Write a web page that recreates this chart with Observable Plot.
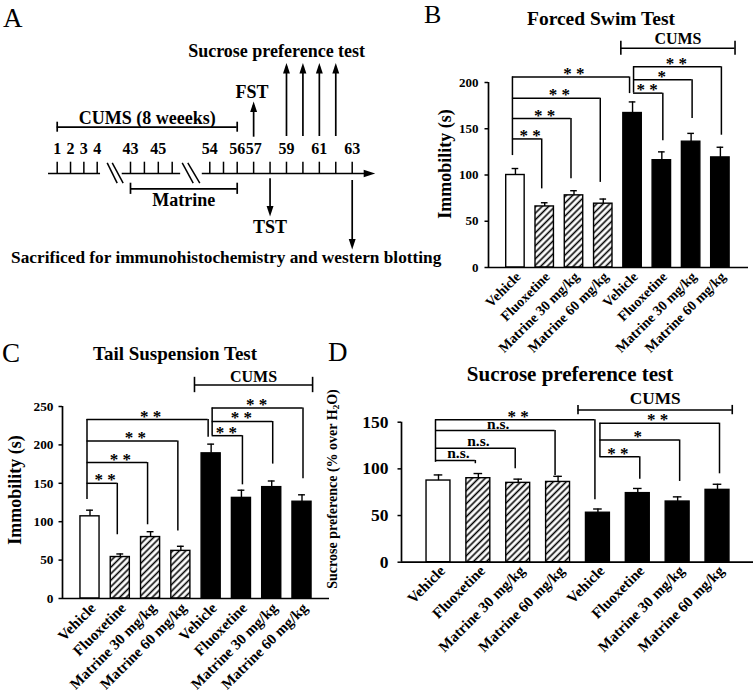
<!DOCTYPE html>
<html><head><meta charset="utf-8">
<script src="https://cdn.jsdelivr.net/npm/d3@7"></script>
<script src="https://cdn.jsdelivr.net/npm/@observablehq/plot@0.6"></script>
<style>
html,body{margin:0;padding:0;background:#fff;}
#fig{position:relative;width:755px;height:693px;overflow:hidden;font-family:'Liberation Serif','Times New Roman',serif;color:#000;}
.abs{position:absolute;}
.lab{position:absolute;line-height:1;white-space:nowrap;}
.ttl{position:absolute;line-height:1;white-space:nowrap;font-weight:bold;transform:translateX(-50%);}
.ylab{position:absolute;line-height:1;white-space:nowrap;font-weight:bold;transform:translate(-50%,-50%) rotate(-90deg);}
.ylab sub{font-size:0.65em;vertical-align:-0.25em;line-height:0;}
</style></head>
<body>
<svg width="0" height="0" style="position:absolute"><defs>
<pattern id="hatch" patternUnits="userSpaceOnUse" width="4.6" height="4.6" patternTransform="rotate(45)">
<rect width="4.6" height="4.6" fill="#fff"/><line x1="2.3" y1="-1" x2="2.3" y2="6" stroke="#000" stroke-width="1.6"/>
</pattern></defs></svg>
<div id="fig"></div>
<script>
// ---------- data ----------
const groups = ["Vehicle","Fluoxetine","Matrine 30 mg/kg","Matrine 60 mg/kg","Vehicle","Fluoxetine","Matrine 30 mg/kg","Matrine 60 mg/kg"];
const stress = ["none","none","none","none","CUMS","CUMS","CUMS","CUMS"];
const treatment = ["vehicle","fluoxetine","matrine","matrine","vehicle","fluoxetine","matrine","matrine"];

const fstMean = [100, 66, 78, 69, 167, 116, 136, 119];
const fstSem  = [7, 4, 5, 5, 12, 9, 9, 11];
const tstMean = [107, 54, 80, 62, 189, 131, 145, 126];
const tstSem  = [8, 4, 7, 6, 12, 10, 8, 9];
const spMean  = [87.5, 90, 85, 86, 53, 74, 65, 77.5];
const spSem   = [6, 5, 4, 6, 4, 5, 5, 6];

const fstTicks = [0, 50, 100, 150, 200];
const tstTicks = [0, 50, 100, 150, 200, 250];
const spTicks  = [0, 50, 100, 150];

// significance comparisons: a vs b, bracket level, right-leg bottom, label
const fstCmp = [
  {a:0,b:1,y:139,drop:85,label:"**"},
  {a:0,b:2,y:161,drop:96,label:"**"},
  {a:0,b:3,y:183,drop:92,label:"**"},
  {a:0,b:4,y:206,drop:188,label:"**"},
  {a:4,b:5,y:188.5,drop:137,label:"**"},
  {a:4,b:6,y:203,drop:161,label:"*"},
  {a:4,b:7,y:217,drop:143,label:"**"}
];
const fstStems = [{at:0,from:121,to:206},{at:4,from:188.5,to:217}];
const tstCmp = [
  {a:0,b:1,y:150,drop:83,label:"**"},
  {a:0,b:2,y:177,drop:96,label:"**"},
  {a:0,b:3,y:205,drop:88,label:"**"},
  {a:0,b:4,y:233,drop:210,label:"**"},
  {a:4,b:5,y:212,drop:148,label:"**"},
  {a:4,b:6,y:230.5,drop:175,label:"**"},
  {a:4,b:7,y:248,drop:156,label:"**"}
];
const tstStems = [{at:0,from:129,to:233},{at:4,from:212,to:248}];
const spCmp = [
  {a:0,b:1,y:109,drop:105.5,label:"n.s."},
  {a:0,b:2,y:122,drop:100,label:"n.s."},
  {a:0,b:3,y:141,drop:93,label:"n.s."},
  {a:0,b:4,y:152.5,drop:67,label:"**"},
  {a:4,b:5,y:113,drop:89,label:"**"},
  {a:4,b:6,y:131,drop:86.5,label:"*"},
  {a:4,b:7,y:149,drop:94.7,label:"**"}
];
const spStems = [{at:0,from:107,to:152.5},{at:4,from:112.5,to:149}];
const fstCums = {x1:3.6,x2:7.5,y:237};
const tstCums = {x1:3.45,x2:7.35,y:278};
const spCums  = {x1:3.5,x2:7.37,y:163};

// timeline (panel A), in experiment days
const aTickDays  = [1,2,3,4,43,44,45,46,54,55,56,57,58,59,60,61,62,63];
const aLabelDays = [1,2,3,4,43,45,54,56,57,59,61,63];
const aSegments  = [[0.35,7.9],[33.3,47.8]];
const aArrowSeg  = [52.4,64.4];
const aBreaks    = [[15.7,27.4],[21.6,34.4],[48.13,50.47],[49.32,51.87]];
const cumsPeriod = [1,56];
const matrinePeriod = [43,56];
const fstDay = 57, tstDay = 58, sucroseDays = [59,60,61,62], sacrificeDay = 63;

// ---------- helpers ----------
const fig = document.getElementById("fig");
const SERIF = "'Liberation Serif','Times New Roman',serif";
function place(node, left, topPx) {
  const d = document.createElement("div");
  d.className = "abs"; d.style.left = left + "px"; d.style.top = topPx + "px";
  d.appendChild(node); fig.appendChild(d);
}
function html(cls, text, left, topPx, size) {
  const d = document.createElement("div");
  d.className = cls; d.innerHTML = text;
  d.style.left = left + "px"; d.style.top = topPx + "px"; d.style.fontSize = size + "px";
  fig.appendChild(d);
}
const head = {draw(ctx, size) {
  const r = Math.sqrt(size / Math.PI), L = 3.2 * r, w = 1.05 * r;
  ctx.moveTo(0, 0); ctx.lineTo(w, L); ctx.lineTo(-w, L); ctx.closePath();
}};

// ---------- panel A ----------
const xA = {type: "linear", domain: [1,4,43,46,54,56,63], range: [56.7,96.7,130,171.7,209.3,236.7,351.7]};
const xs = Plot.scale({x: xA});
const mid = (a, b) => xs.invert((xs.apply(a) + xs.apply(b)) / 2);
const lv = {tick:11.3, label:20, cums:46.3, cumsText:50, half:5, mat:-15.3, matText:-32,
  fstFrom:36.3, fstTo:72, fstText:75.7, spFrom:37, spTo:110.5, spText:117,
  tstFrom:-5.3, tstTo:-43, tstText:-59.7, sacFrom:-7, sacTo:-76, sacText:-89, brkTop:10.7, brkBot:-9.7};
const SW = 1.7;
const panelA = Plot.plot({
  width: 460, height: 290,
  x: {...xA, axis: null},
  y: {domain: [-117, 173], range: [290, 0], axis: null},
  style: {fontFamily: SERIF, fontWeight: "bold", background: "none", color: "black"},
  marks: [
    Plot.ruleY(aSegments, {x1: d => d[0], x2: d => d[1], y: 0, strokeWidth: SW}),
    Plot.ruleY([aArrowSeg], {x1: d => d[0], x2: d => d[1] - 0.3, y: 0, strokeWidth: SW}),
    Plot.dot([aArrowSeg], {x: d => d[1], y: 0, symbol: head, r: 3.6, fill: "black", stroke: "none", rotate: 90}),
    Plot.link(aBreaks, {x1: d => d[0], x2: d => d[1], y1: lv.brkTop, y2: lv.brkBot, strokeWidth: 1.5}),
    Plot.ruleX(aTickDays, {x: d => d, y1: 0, y2: lv.tick, strokeWidth: 1.5}),
    Plot.text(aLabelDays, {x: d => d, y: lv.label, text: d => String(d), lineAnchor: "bottom", fontSize: 16}),
    Plot.ruleY([cumsPeriod], {x1: d => d[0], x2: d => d[1], y: lv.cums, strokeWidth: SW}),
    Plot.ruleX(cumsPeriod, {x: d => d, y1: lv.cums - lv.half, y2: lv.cums + lv.half, strokeWidth: SW}),
    Plot.text([cumsPeriod], {x: d => mid(d[0], d[1]), y: lv.cumsText, text: () => "CUMS (8 weeeks)", lineAnchor: "bottom", fontSize: 18}),
    Plot.ruleY([matrinePeriod], {x1: d => d[0], x2: d => d[1], y: lv.mat, strokeWidth: SW}),
    Plot.ruleX(matrinePeriod, {x: d => d, y1: lv.mat - 5.6, y2: lv.mat + 5.6, strokeWidth: SW}),
    Plot.text([matrinePeriod], {x: d => mid(d[0], d[1]), y: lv.matText, text: () => "Matrine", lineAnchor: "bottom", fontSize: 18}),
    Plot.ruleX([fstDay], {x: d => d, y1: lv.fstFrom, y2: lv.fstTo - 4, strokeWidth: SW}),
    Plot.dot([fstDay], {x: d => d, y: lv.fstTo, symbol: head, r: 3.3, fill: "black", stroke: "none"}),
    Plot.text([fstDay], {x: d => d - 0.1, y: lv.fstText, text: () => "FST", lineAnchor: "bottom", fontSize: 18}),
    Plot.ruleX(sucroseDays, {x: d => d, y1: lv.spFrom, y2: lv.spTo - 4, strokeWidth: SW}),
    Plot.dot(sucroseDays, {x: d => d, y: lv.spTo, symbol: head, r: 3.3, fill: "black", stroke: "none"}),
    Plot.text([sucroseDays], {x: () => 58.4, y: lv.spText, text: () => "Sucrose preference test", lineAnchor: "bottom", fontSize: 18}),
    Plot.ruleX([tstDay], {x: d => d, y1: lv.tstFrom, y2: lv.tstTo + 4, strokeWidth: SW}),
    Plot.dot([tstDay], {x: d => d, y: lv.tstTo, symbol: head, r: 3.3, fill: "black", stroke: "none", rotate: 180}),
    Plot.text([tstDay], {x: d => d, y: lv.tstText, text: () => "TST", lineAnchor: "bottom", fontSize: 18}),
    Plot.ruleX([sacrificeDay], {x: d => d, y1: lv.sacFrom, y2: lv.sacTo + 4, strokeWidth: SW}),
    Plot.dot([sacrificeDay], {x: d => d, y: lv.sacTo, symbol: head, r: 3.3, fill: "black", stroke: "none", rotate: 180}),
    Plot.text([sacrificeDay], {x: () => 55.2, y: lv.sacText, text: () => "Sacrificed for immunohistochemistry and western blotting", lineAnchor: "bottom", fontSize: 17.3})
  ]
});
place(panelA, 0, 0);

// ---------- bar panels ----------
function barPanel(o) {
  const rows = groups.map((label, i) => ({i, label, stress: stress[i], treatment: treatment[i], mean: o.mean[i], sem: o.sem[i]}));
  const half = o.barFrac / 2, cap = half * 0.36;
  const ctl = o.cmp.filter(d => d.a < 4), cum = o.cmp.filter(d => d.a >= 4);
  const bw = 1.5;
  const bar = (data, fill) => Plot.rect(data, {x1: d => d.i - half, x2: d => d.i + half, y1: 0, y2: "mean", fill, stroke: "black", strokeWidth: 1.4});
  const ymax = o.ticks[o.ticks.length - 1];
  return Plot.plot({
    width: o.width, height: o.height,
    marginLeft: o.ml, marginRight: o.mr, marginTop: o.mt, marginBottom: o.mb,
    x: {domain: o.xdom, axis: null},
    y: {domain: [0, ymax], axis: null},
    style: {fontFamily: SERIF, fontWeight: "bold", background: "none", color: "black", fontSize: o.tickFont + "px"},
    marks: [
      Plot.axisY({ticks: o.ticks, tickSize: 3.5, tickPadding: o.tickPad, fontSize: o.tickFont, fontWeight: "bold", strokeWidth: 1.5}),
      Plot.ruleX([o.xdom[0]], {y1: 0, y2: ymax, strokeWidth: 1.7}),
      bar(rows.filter(d => d.stress === "CUMS"), "black"),
      bar(rows.filter(d => d.stress !== "CUMS" && d.treatment === "vehicle"), "white"),
      bar(rows.filter(d => d.stress !== "CUMS" && d.treatment !== "vehicle"), "url(#hatch)"),
      Plot.ruleX(rows, {x: "i", y1: "mean", y2: d => d.mean + d.sem, strokeWidth: 1.4}),
      Plot.ruleY(rows, {y: d => d.mean + d.sem, x1: d => d.i - cap, x2: d => d.i + cap, strokeWidth: 1.4}),
      Plot.ruleY([0], {strokeWidth: 1.7}),
      Plot.ruleY(ctl, {y: "y", x1: "a", x2: "b", dx: o.ctlDx, strokeWidth: bw}),
      Plot.ruleX(ctl, {x: "b", y1: "drop", y2: "y", dx: o.ctlDx, strokeWidth: bw}),
      Plot.ruleX(o.stems.filter(d => d.at < 4), {x: "at", y1: "from", y2: "to", dx: o.ctlDx, strokeWidth: bw}),
      Plot.ruleY(cum, {y: "y", x1: "a", x2: "b", dx: o.cumDx, strokeWidth: bw}),
      Plot.ruleX(cum, {x: "b", y1: "drop", y2: "y", dx: o.cumDx, strokeWidth: bw}),
      Plot.ruleX(o.stems.filter(d => d.at >= 4), {x: "at", y1: "from", y2: "to", dx: o.cumDx, strokeWidth: bw}),
      Plot.text(o.cmp.filter(d => d.label !== "n.s."), {x: d => (d.a + d.b) / 2, y: "y", text: d => d.label.split("").join(" "),
        lineAnchor: "bottom", dy: o.starDy, fontSize: o.starFont, fontWeight: "bold", fill: "black"}),
      Plot.text(o.cmp.filter(d => d.label === "n.s."), {x: d => (d.a + d.b) / 2, y: "y", text: "label",
        lineAnchor: "bottom", dy: -2, fontSize: o.nsFont, fontWeight: "bold", fill: "black"}),
      Plot.ruleY([o.cums], {y: "y", x1: "x1", x2: "x2", strokeWidth: 1.6}),
      Plot.ruleX([o.cums.x1, o.cums.x2], {x: d => d, y1: o.cums.y - o.cumsTick, y2: o.cums.y + o.cumsTick, strokeWidth: 1.6}),
      Plot.text([o.cums], {x: d => (d.x1 + d.x2) / 2, y: "y", text: () => "CUMS", lineAnchor: "bottom", dy: o.cumsDy, fontSize: o.cumsFont, fontWeight: "bold"}),
      Plot.text(rows, {x: "i", y: 0, text: "label", rotate: -45, textAnchor: "end", lineAnchor: "top",
        dx: o.labDx, dy: o.labDy, fontSize: o.labFont, fontWeight: "bold"})
    ]
  });
}

const panelB = barPanel({mean: fstMean, sem: fstSem, ticks: fstTicks, cmp: fstCmp, stems: fstStems, cums: fstCums,
  width: 335, height: 372, ml: 68, mr: 7, mt: 82, mb: 105, xdom: [-0.92, 7.96], barFrac: 0.63,
  tickFont: 13, tickPad: 6.5, starFont: 17, starDy: 2, nsFont: 15, ctlDx: -3, cumDx: 1,
  cumsTick: 7.5, cumsDy: -4, cumsFont: 16, labDx: -1, labDy: 3, labFont: 14});
place(panelB, 420, 0);

const panelC = barPanel({mean: tstMean, sem: tstSem, ticks: tstTicks, cmp: tstCmp, stems: tstStems, cums: tstCums,
  width: 340, height: 363, ml: 62, mr: 11, mt: 76, mb: 95, xdom: [-0.908, 7.908], barFrac: 0.63,
  tickFont: 13.3, tickPad: 5.5, starFont: 17, starDy: 2, nsFont: 15, ctlDx: -3, cumDx: 1,
  cumsTick: 10, cumsDy: -3, cumsFont: 16, labDx: -1, labDy: 3, labFont: 15});
place(panelC, 0, 330);

const panelD = barPanel({mean: spMean, sem: spSem, ticks: spTicks, cmp: spCmp, stems: spStems, cums: spCums,
  width: 425, height: 323, ml: 71, mr: 2, mt: 51.7, mb: 131.3, xdom: [-0.928, 7.903], barFrac: 0.6,
  tickFont: 17.5, tickPad: 9.5, starFont: 17, starDy: 2, nsFont: 15.5, ctlDx: -3, cumDx: 2,
  cumsTick: 5, cumsDy: -6, cumsFont: 17.3, labDx: 0, labDy: 2, labFont: 15});
place(panelD, 330, 370);

// ---------- titles, panel letters, axis titles ----------
const baseTop = (baseline, size) => baseline - 0.8375 * size;
html("lab", "A", 3, baseTop(27.7, 27), 27);
html("lab", "B", 424, baseTop(24, 26), 26);
html("lab", "C", 2, baseTop(363, 27), 27);
html("lab", "D", 328, baseTop(362, 27), 27);
html("ttl", "Forced Swim Test", 601, baseTop(25, 19.5), 19.5);
html("ttl", "Tail Suspension Test", 175, baseTop(360, 19), 19);
html("ttl", "Sucrose preference test", 570, baseTop(381.7, 21), 21);
html("ylab", "Immobility (s)", 445, 164, 18);
html("ylab", "Immobility (s)", 15, 490, 18);
html("ylab", "Sucrose preference (% over H<sub>2</sub>O)", 333, 489, 14);
</script>
</body></html>
